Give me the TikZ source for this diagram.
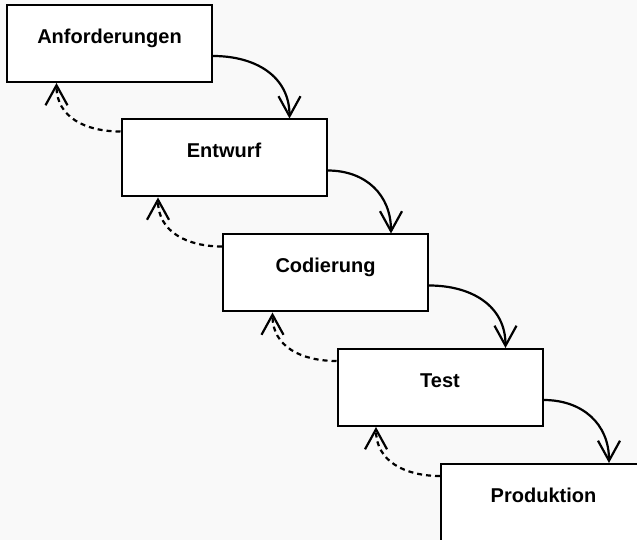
\documentclass[tikz,border=0pt]{standalone}
\usepackage{fontspec}
\setmainfont{Liberation Sans}
\usetikzlibrary{arrows.meta,calc}
\definecolor{bgcol}{RGB}{249,249,249}
\tikzset{
  phase/.style={draw=black, fill=white, line width=2pt, rectangle,
    minimum width=205pt, inner sep=0pt, text height=38.5pt, text depth=38.5pt,
    font=\fontsize{20}{24}\selectfont\bfseries},
  tip/.style={-{Straight Barb[length=20pt,width=22pt,line width=2.2pt]}},
  flow/.style={tip, line width=2.2pt},
  back/.style={tip, line width=2.2pt, dash pattern=on 5pt off 4pt}
}
\begin{document}
\begin{tikzpicture}[x=1pt,y=1pt]
\fill[bgcol] (0,0) rectangle (637,540);
\useasboundingbox (0,0) rectangle (637,540);
\begin{scope}
\clip (0,0) rectangle (637,540);
\node[phase] (A) at (109.5,496.5) {Anforderungen};
\node[phase] (E) at (224,382) {Entwurf};
\node[phase] (C) at (325.5,267) {Codierung};
\node[phase] (T) at (440,152.5) {Test};
\node[phase] (P) at (543.5,37.5) {Produktion};
\foreach \u/\l in {A/E,E/C,C/T,T/P}{
  \draw[flow] ($(\u.east)+(0,-12.5)$) to[out=0,in=90,looseness=1.1] ($(\l.north east)+(-38,0)$);
  \draw[back] ($(\l.north west)+(0,-13)$) to[out=180,in=-90,looseness=1.1] ($(\u.south -| \l.west)+(-64,0)$);
}
\end{scope}
\end{tikzpicture}
\end{document}
